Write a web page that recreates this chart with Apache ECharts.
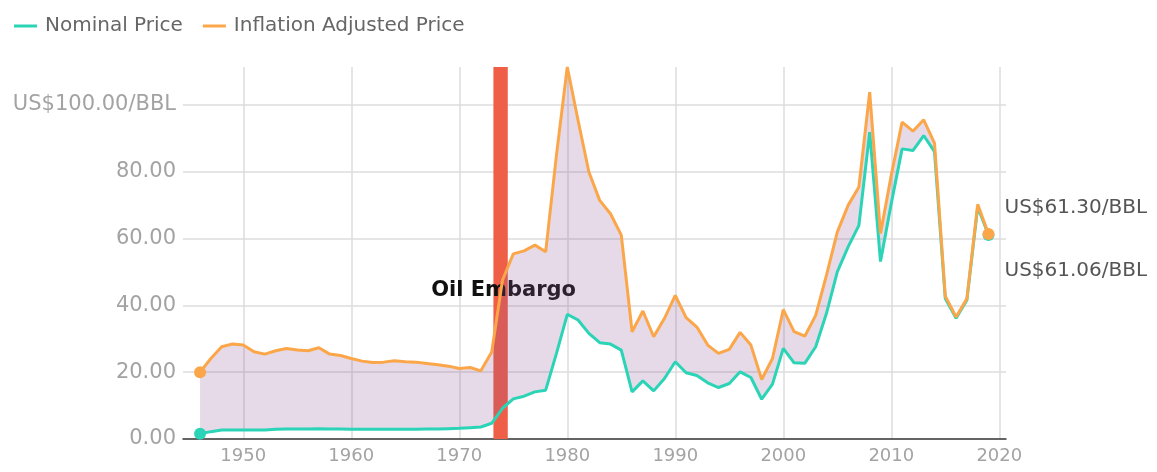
<!DOCTYPE html>
<html>
<head>
<meta charset="utf-8">
<script src="https://cdn.jsdelivr.net/npm/echarts@6/dist/echarts.min.js"></script>
<style>
  html, body { margin: 0; padding: 0; background: #fff; }
  #chart { width: 1157px; height: 472px; }
</style>
</head>
<body>
<div id="chart"></div>
<script>
// years 1946..2019
const years = []
for (let y = 1946; y <= 2019; y++) years.push(y)

const nominal = [
  1.6, 2.2, 2.7, 2.7, 2.7, 2.7, 2.7, 2.9, 3.0, 3.0,
  3.0, 3.1, 3.0, 3.0, 2.9, 2.9, 2.9, 2.9, 2.9, 2.9,
  2.9, 3.0, 3.0, 3.1, 3.2, 3.4, 3.6, 4.7, 9.2, 12.0,
  12.8, 14.1, 14.6, 25.6, 37.3, 35.6, 31.6, 28.8, 28.4, 26.6,
  14.1, 17.4, 14.4, 18.1, 23.1, 19.8, 19.0, 16.8, 15.4, 16.6,
  20.1, 18.4, 11.9, 16.4, 27.1, 22.8, 22.7, 27.6, 37.6, 50.0,
  57.5, 63.9, 91.8, 53.1, 70.5, 86.8, 86.3, 90.8, 86.0, 42.0,
  36.1, 41.6, 69.4, 61.06
]

const adjusted = [
  20.0, 24.1, 27.6, 28.4, 28.1, 26.1, 25.4, 26.4, 27.1, 26.6,
  26.4, 27.3, 25.4, 25.0, 24.1, 23.3, 22.9, 23.0, 23.4, 23.1,
  23.0, 22.6, 22.2, 21.8, 21.1, 21.4, 20.4, 26.0, 47.5, 55.4,
  56.3, 58.0, 56.0, 85.0, 111.3, 95.3, 79.9, 71.4, 67.4, 61.0,
  32.1, 38.3, 30.6, 36.1, 43.0, 36.3, 33.5, 28.1, 25.6, 26.8,
  31.9, 28.1, 17.8, 24.1, 38.7, 32.1, 30.8, 37.0, 49.0, 61.9,
  69.9, 75.4, 103.8, 61.5, 79.0, 94.8, 92.1, 95.5, 88.5, 42.7,
  36.5, 42.0, 70.2, 61.30
]

const xTicks = [1950, 1960, 1970, 1980, 1990, 2000, 2010, 2020]
const yTicks = [0, 20, 40, 60, 80, 100]
const embargo = [1973.16, 1974.49]

const last = years.length - 1
const pairs = arr => arr.map((v, i) => ({
  value: [years[i], v],
  symbol: (i === 0 || i === last) ? 'circle' : 'none'
}))

const font = '"DejaVu Sans", Verdana, sans-serif'

// band between the two lines, drawn as one polygon through the axes
function renderBand (params, api) {
  const pts = []
  for (let i = 0; i < years.length; i++) pts.push(api.coord([years[i], adjusted[i]]))
  for (let i = years.length - 1; i >= 0; i--) pts.push(api.coord([years[i], nominal[i]]))
  return {
    type: 'polygon',
    shape: { points: pts },
    style: { fill: 'rgba(140,85,150,0.22)' },
    silent: true
  }
}

const chart = echarts.init(document.getElementById('chart'))
chart.setOption({
  animation: false,
  textStyle: { fontFamily: font },
  legend: {
    left: 9,
    top: 11,
    icon: 'rect',
    itemWidth: 23,
    itemHeight: 3,
    itemGap: 20,
    data: ['Nominal Price', 'Inflation Adjusted Price'],
    textStyle: { fontSize: 20, color: '#666', fontFamily: font, padding: [0, 0, 0, 3] }
  },
  grid: { left: 183, right: 151, top: 67, bottom: 33 },
  xAxis: {
    type: 'value',
    min: 1944.42,
    max: 2020.62,
    axisLine: { lineStyle: { color: '#3a3a3a', width: 1.5 } },
    axisTick: { show: false, customValues: xTicks },
    axisLabel: {
      customValues: xTicks,
      color: '#a3a3a3',
      fontSize: 18,
      margin: 8,
      fontFamily: font,
      formatter: v => String(v)
    },
    splitLine: { show: true, lineStyle: { color: '#ddd', width: 1.5 } }
  },
  yAxis: {
    type: 'value',
    min: 0,
    max: Math.max(...adjusted),
    axisLine: { show: false },
    axisTick: { show: false, customValues: yTicks },
    axisLabel: {
      customValues: yTicks,
      color: '#a3a3a3',
      fontSize: 21,
      margin: 7,
      fontFamily: font,
      formatter: v => v === 100 ? 'US$100.00/BBL' : v.toFixed(2)
    },
    splitLine: { show: true, lineStyle: { color: '#ddd', width: 1.5 } }
  },
  series: [
    {
      name: 'band',
      type: 'custom',
      renderItem: renderBand,
      data: [[years[0], 0]],
      encode: { x: 0, y: 1 },
      silent: true,
      z: 2,
      markArea: {
        silent: true,
        z: 1,
        itemStyle: { color: '#ef5e47' },
        label: {
          show: true,
          position: ['50%', '60%'],
          align: 'center',
          verticalAlign: 'middle',
          offset: [3, 0],
          color: '#111',
          fontSize: 21,
          fontWeight: 'bold',
          fontFamily: font,
          formatter: 'Oil Embargo'
        },
        data: [[{ xAxis: embargo[0] }, { xAxis: embargo[1] }]]
      }
    },
    {
      name: 'Nominal Price',
      type: 'line',
      data: pairs(nominal),
      showSymbol: true,
      symbolSize: 12,
      color: '#2bd4b6',
      lineStyle: { width: 3, color: '#2bd4b6' },
      itemStyle: { color: '#2bd4b6' },
      z: 3,
      endLabel: {
        show: true,
        formatter: 'US$61.06/BBL',
        color: '#555',
        fontSize: 20,
        fontFamily: font,
        offset: [8, 36]
      }
    },
    {
      name: 'Inflation Adjusted Price',
      type: 'line',
      data: pairs(adjusted),
      showSymbol: true,
      symbolSize: 12,
      color: '#fca64a',
      lineStyle: { width: 3, color: '#fca64a' },
      itemStyle: { color: '#fca64a' },
      z: 4,
      endLabel: {
        show: true,
        formatter: 'US$61.30/BBL',
        color: '#555',
        fontSize: 20,
        fontFamily: font,
        offset: [8, -26]
      }
    }
  ]
})
</script>
</body>
</html>
